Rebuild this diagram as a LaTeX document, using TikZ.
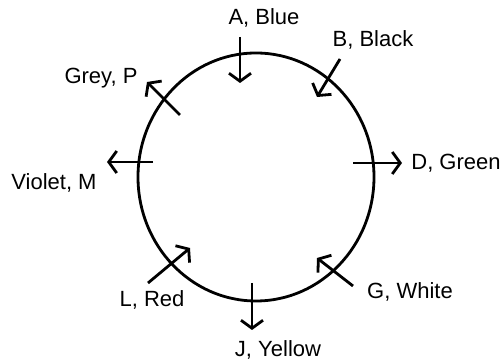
\documentclass[tikz,border=0pt]{standalone}
\usepackage{fontspec}
\setmainfont{Liberation Sans}
\usetikzlibrary{arrows.meta}
\definecolor{ink}{HTML}{000000}

\begin{document}
\begin{tikzpicture}[x=0.5pt,y=-0.5pt,
  arr/.style={ink,line width=1.4pt,-{Straight Barb[length=4pt,width=11pt]}},
  lbl/.style={font=\fontsize{11}{13}\selectfont,inner sep=0pt}]
\useasboundingbox (0,0) rectangle (504,362);
\draw[ink,line width=1.4pt] (256,177) ellipse [x radius=59pt,y radius=62pt];
% ends of the arrows across the ring
\coordinate (a1) at (240,37);\coordinate (a2) at (240,83);
\coordinate (b1) at (340,59);\coordinate (b2) at (317,97);
\coordinate (d1) at (353,163);\coordinate (d2) at (402,163);
\coordinate (g1) at (353,286);\coordinate (g2) at (317,258);
\coordinate (j1) at (252,283);\coordinate (j2) at (252,330);
\coordinate (l1) at (148,283);\coordinate (l2) at (190,248);
\coordinate (m1) at (153,162);\coordinate (m2) at (107,162);
\coordinate (p1) at (180,115);\coordinate (p2) at (147,82);
\draw[arr] (a1)--(a2);\draw[arr] (b1)--(b2);\draw[arr] (d1)--(d2);\draw[arr] (g1)--(g2);
\draw[arr] (j1)--(j2);\draw[arr] (l1)--(l2);\draw[arr] (m1)--(m2);\draw[arr] (p1)--(p2);
% labels
\node[lbl] (a) at (264,18){A, Blue};
\node[lbl] (b) at (373,40){B, Black};
\node[lbl] (d) at (456,163){D, Green};
\node[lbl] (g) at (410,292){G, White};
\node[lbl] (j) at (278,350){J, Yellow};
\node[lbl] (l) at (152,300){L, Red};
\node[lbl] (m) at (54,183){Violet, M};
\node[lbl] (p) at (101,78){Grey, P};
\end{tikzpicture}
\end{document}
